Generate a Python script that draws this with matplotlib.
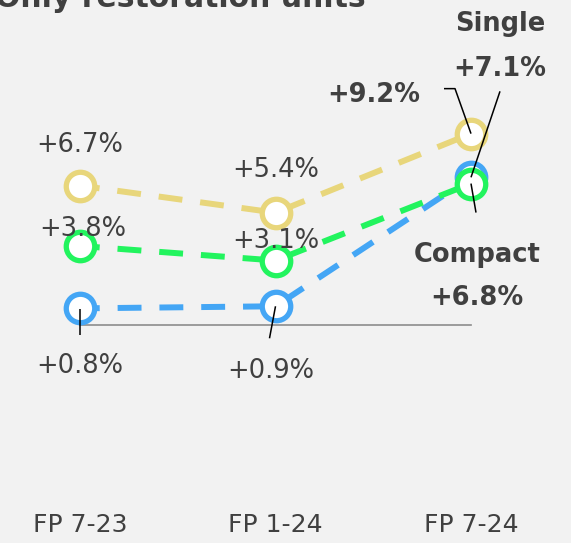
import matplotlib
matplotlib.use("Agg")
import matplotlib.pyplot as plt
import numpy as np

# ---- data ----
categories = ["FP 7-23", "FP 1-24", "FP 7-24"]
series_names = ["Total", "Compact", "Single"]
total_vals = [6.7, 5.4, 9.2]
compact_vals = [3.8, 3.1, 6.8]
single_vals = [0.8, 0.9, 7.1]
title = "Only restoration units"

# ---- style ----
BG = "#F2F2F2"
TXT = "#404040"
colors = {"Total": "#E8D67B", "Compact": "#22F45E", "Single": "#44A6F5"}

plt.rcParams['font.family'] = ['DejaVu Sans']

W, H, DPI = 571, 543, 100
fig = plt.figure(figsize=(W / DPI, H / DPI), dpi=DPI, facecolor=BG)
ax_bottom_px = 505
ax = fig.add_axes([0, (H - ax_bottom_px) / H, 1, ax_bottom_px / H])
ax.set_facecolor(BG)

px_per_x = 195.5
px_per_y = 20.8
x0_px = 80
zero_px = 325
ax.set_xlim(-x0_px / px_per_x, 2 + (W - x0_px - 2 * px_per_x) / px_per_x)
ax.set_ylim((zero_px - ax_bottom_px) / px_per_y, zero_px / px_per_y)

x = list(range(len(categories)))

# baseline
ax.plot([x[0], x[-1]], [0, 0], color="#8C8C8C", lw=1.2, zorder=1)

series = [("Single", single_vals), ("Compact", compact_vals), ("Total", total_vals)]
for i, (name, vals) in enumerate(series):
    ax.plot(x, vals, color=colors[name], lw=4.3, linestyle=(0.7, (4, 3)),
            marker="o", ms=20.5, mfc="white", mec=colors[name], mew=3.8,
            zorder=3 + i, dash_capstyle="butt")

def lab(xi, v, dx, dy, bold=False, text=None):
    s = text if text is not None else f"+{v:.1f}%"
    ax.annotate(s, xy=(xi, v), xytext=(dx, -dy), textcoords="offset pixels",
                ha="center", va="baseline", fontsize=18.5, color=TXT,
                fontweight="bold" if bold else "normal", zorder=10)

def leader(xi, v, pts):
    # pts: pixel offsets (dx, dy downwards) from the data point
    px, py = ax.transData.transform((xi, v))
    disp = [(px + dx, py - dy) for dx, dy in pts]
    dat = ax.transData.inverted().transform(disp)
    ax.plot(dat[:, 0], dat[:, 1], color="black", lw=1.1, zorder=12,
            solid_capstyle="butt")

# Total (yellow)
lab(x[0], total_vals[0], 0, -34)
lab(x[1], total_vals[1], 0, -36)
lab(x[2], total_vals[2], -97, -32, bold=True)
leader(x[2], total_vals[2], [(-27, -45), (-16, -45), (0, 0)])

# Compact (green)
lab(x[0], compact_vals[0], 3, -10)
lab(x[1], compact_vals[1], 0, -13)
lab(x[2], compact_vals[2], 6, 121, bold=True)
lab(x[2], compact_vals[2], 6, 78, bold=True, text="Compact")
leader(x[2], compact_vals[2], [(0, 0), (5, 29)])

# Single (blue)
lab(x[0], single_vals[0], 0, 65)
lab(x[1], single_vals[1], -5, 72)
lab(x[2], single_vals[2], 29, -101, bold=True)
lab(x[2], single_vals[2], 29, -146, bold=True, text="Single")
leader(x[2], single_vals[2], [(0, 0), (29, -86)])
leader(x[0], single_vals[0], [(0, 1), (0, 27)])
leader(x[1], single_vals[1], [(0, 0), (-6, 32)])

ax.set_xticks(x)
ax.set_xticklabels(categories, fontsize=18, color=TXT)
ax.tick_params(axis="x", length=0, pad=6)
ax.set_yticks([])
for s in ax.spines.values():
    s.set_visible(False)

fig.text(-5 / W, 1 - 7 / H, title, fontsize=21.5, fontweight="bold",
         color=TXT, ha="left", va="baseline")

fig.savefig("out.png", dpi=DPI, facecolor=BG)
